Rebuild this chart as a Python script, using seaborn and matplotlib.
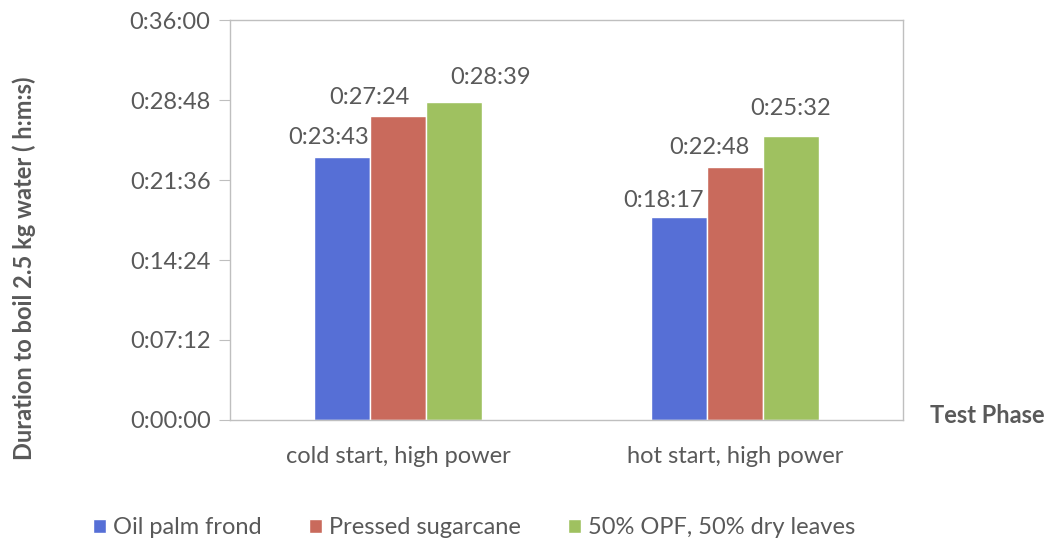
import matplotlib
matplotlib.use("Agg")
import matplotlib.pyplot as plt
import seaborn as sns
import pandas as pd
from matplotlib.ticker import FuncFormatter, MultipleLocator

# data (h:mm:ss)
phases = ["cold start, high power", "hot start, high power"]
fuels = ["Oil palm frond", "Pressed sugarcane", "50% OPF, 50% dry leaves"]
oil_palm = ["0:23:43", "0:18:17"]
sugarcane = ["0:27:24", "0:22:48"]
opf_leaves = ["0:28:39", "0:25:32"]
colours = ["#566fd6", "#c96a5c", "#9fc160"]

# manual nudges of the data labels (points), per fuel, per phase
label_dx = [[-9.4, -10.8], [-20.9, -18.0], [25.9, 0.0]]
label_dy = [[6.5, 4.3], [5.8, 6.5], [10.0, 12.2]]


def to_seconds(t):
    h, m, s = (int(p) for p in t.split(":"))
    return h * 3600 + m * 60 + s


def hms(x, pos=None):
    x = int(round(x))
    return f"{x // 3600}:{(x % 3600) // 60:02d}:{x % 60:02d}"


rows = []
for fuel, vals in zip(fuels, [oil_palm, sugarcane, opf_leaves]):
    for phase, v in zip(phases, vals):
        rows.append({"phase": phase, "fuel": fuel, "seconds": to_seconds(v), "label": v})
df = pd.DataFrame(rows)

sns.set_style("white")
plt.rcParams["font.family"] = ["Lato", "DejaVu Sans"]
text_grey = "#595959"
fs = 17

fig = plt.figure(figsize=(10.54, 5.44), dpi=100)
ax = fig.add_axes([0.2182, 0.228, 0.6385, 0.735])

sns.barplot(data=df, x="phase", y="seconds", hue="fuel", order=phases, hue_order=fuels,
            palette=colours, width=0.5, saturation=1, errorbar=None, ax=ax)

for i, (container, fuel) in enumerate(zip(ax.containers, fuels)):
    labels = df[df["fuel"] == fuel].set_index("phase").loc[phases, "label"].tolist()
    anns = ax.bar_label(container, labels=labels, fontsize=fs, color=text_grey)
    for j, ann in enumerate(anns):
        ann.xyann = (label_dx[i][j], label_dy[i][j])

ax.set_xlim(-0.5, 1.5)
ax.set_ylim(0, 2160)
ax.yaxis.set_major_locator(MultipleLocator(432))
ax.yaxis.set_major_formatter(FuncFormatter(hms))
ax.tick_params(axis="y", which="major", left=True, length=8, color="#bfbfbf",
               labelsize=fs, labelcolor=text_grey, pad=6)
ax.tick_params(axis="x", bottom=False, labelsize=fs, labelcolor=text_grey, pad=15)
for spine in ax.spines.values():
    spine.set_color("#bfbfbf")
    spine.set_linewidth(1)

ax.set_xlabel("")
ax.set_ylabel("Duration to boil 2.5 kg water ( h:m:s)", fontsize=17, fontweight="bold",
              color=text_grey)
ax.yaxis.set_label_coords(-0.288, 0.38)
fig.text(0.937, 0.237, "Test Phase", fontsize=fs, fontweight="bold", color=text_grey,
         ha="center", va="center")

sns.move_legend(ax, loc="center", bbox_to_anchor=(0.45, 0.03),
                bbox_transform=fig.transFigure, ncol=3, frameon=False, title=None,
                fontsize=fs, handlelength=0.55, handleheight=0.55, handletextpad=0.3,
                columnspacing=2.0)
for t in ax.get_legend().get_texts():
    t.set_color(text_grey)

fig.savefig("out.png", dpi=100)
